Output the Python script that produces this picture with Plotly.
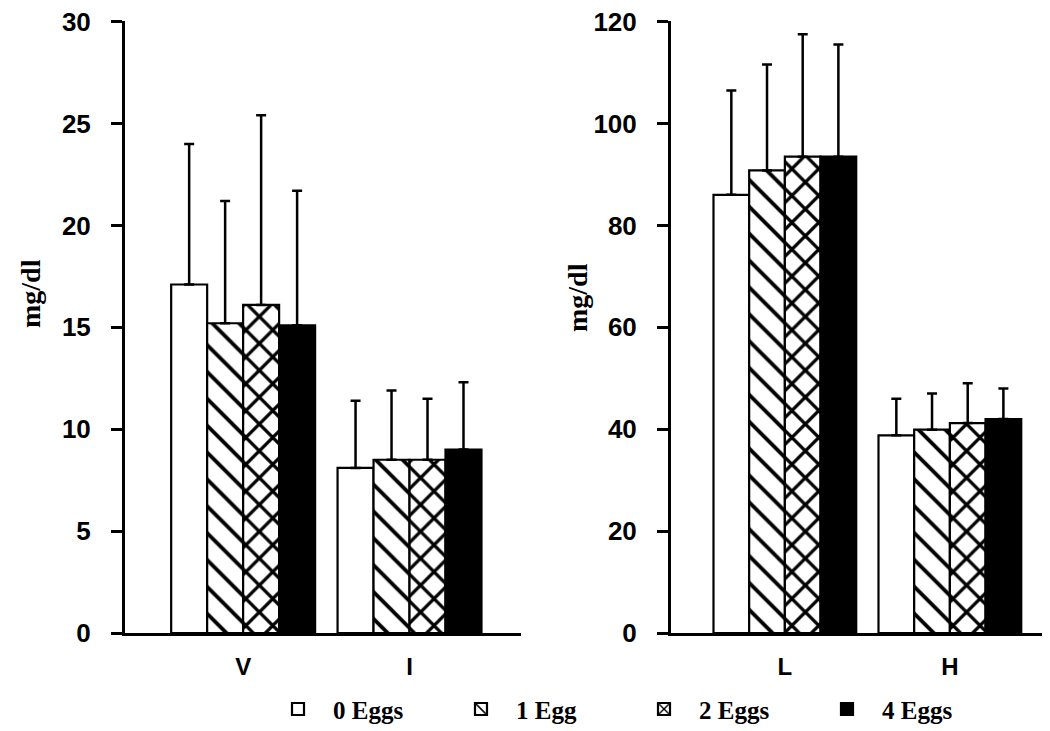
import plotly.graph_objects as go

series = ["0 Eggs", "1 Egg", "2 Eggs", "4 Eggs"]

left_cats = ["V", "I"]
right_cats = ["L", "H"]

# means (mg/dl) per series, left panel (V, I)
left_means = {
    "0 Eggs": [17.1, 8.1],
    "1 Egg": [15.2, 8.5],
    "2 Eggs": [16.1, 8.5],
    "4 Eggs": [15.1, 9.0],
}
left_sd = {
    "0 Eggs": [6.9, 3.3],
    "1 Egg": [6.0, 3.4],
    "2 Eggs": [9.3, 3.0],
    "4 Eggs": [6.6, 3.3],
}
# right panel (L, H)
right_means = {
    "0 Eggs": [86.0, 38.8],
    "1 Egg": [90.8, 39.9],
    "2 Eggs": [93.5, 41.2],
    "4 Eggs": [93.5, 42.0],
}
right_sd = {
    "0 Eggs": [20.5, 7.2],
    "1 Egg": [20.8, 7.1],
    "2 Eggs": [24.0, 7.8],
    "4 Eggs": [22.0, 6.0],
}

left_ticks = [0, 5, 10, 15, 20, 25, 30]
right_ticks = [0, 20, 40, 60, 80, 100, 120]

styles = {
    "0 Eggs": dict(color="white", pattern=dict(shape="")),
    "1 Egg": dict(color="white", pattern=dict(shape="\\", size=19, solidity=0.2,
                                              fgcolor="black", bgcolor="white", fillmode="replace")),
    "2 Eggs": dict(color="white", pattern=dict(shape="x", size=19, solidity=0.32,
                                               fgcolor="black", bgcolor="white", fillmode="replace")),
    "4 Eggs": dict(color="black", pattern=dict(shape="")),
}

fig = go.Figure()

def add_panel(cats, means, sds, xa, ya, showleg):
    for s in series:
        st = styles[s]
        fig.add_trace(go.Bar(
            x=cats, y=means[s], name=s, legendgroup=s, showlegend=showleg,
            xaxis=xa, yaxis=ya,
            marker=dict(color=st["color"], pattern=st["pattern"],
                        line=dict(color="black", width=2.2)),
            error_y=dict(type="data", symmetric=False, array=sds[s],
                         arrayminus=[0] * len(cats), color="black",
                         thickness=2.5, width=5),
        ))

add_panel(left_cats, left_means, left_sd, "x", "y", True)
add_panel(right_cats, right_means, right_sd, "x2", "y2", False)

tickfont = dict(family="Liberation Sans, Arial, sans-serif", size=26, color="black", weight="bold")
catfont = dict(family="Liberation Sans, Arial, sans-serif", size=24, color="black", weight="bold")
serif = "Liberation Serif, Times New Roman, serif"

yax_common = dict(showline=True, linewidth=3, linecolor="black", ticks="outside",
                  ticklen=11, tickwidth=3, tickcolor="black", showgrid=False,
                  zeroline=False, tickfont=tickfont, ticklabelstandoff=15, automargin=False,
                  ticklabeloverflow="allow")
xax_common = dict(type="category", showline=True, linewidth=3, linecolor="black",
                  ticks="", showgrid=False, zeroline=False, tickfont=catfont,
                  ticklabelstandoff=10, automargin=False)

fig.update_layout(
    width=1050, height=731,
    margin=dict(l=0, r=0, t=13, b=106, autoexpand=False),
    paper_bgcolor="white", plot_bgcolor="white",
    barmode="group", bargap=0.135, bargroupgap=0,
    xaxis=dict(domain=[117 / 1050, 513 / 1050], range=[-0.71, 1.67], **xax_common),
    yaxis=dict(range=[0, 30.03], tickvals=left_ticks, **yax_common),
    xaxis2=dict(domain=[663 / 1050, 1045 / 1050], range=[-0.69, 1.625], anchor="y2", **xax_common),
    yaxis2=dict(range=[0, 120.12], tickvals=right_ticks, anchor="x2", **yax_common),
    legend=dict(orientation="h", x=255 / 1050, xanchor="left", y=-0.087, yanchor="top",
                font=dict(family=serif, size=25, color="black", weight="bold"),
                entrywidth=108, entrywidthmode="pixels", traceorder="normal",
                itemwidth=60),
    annotations=[
        dict(text="mg/dl", x=22 / 1050, xref="paper", y=(625 - 286) / 612, yref="paper",
             textangle=-90, showarrow=False, xanchor="center", yanchor="middle",
             font=dict(family=serif, size=28, color="black", weight="bold")),
        dict(text="mg/dl", x=570 / 1050, xref="paper", y=(625 - 290) / 612, yref="paper",
             textangle=-90, showarrow=False, xanchor="center", yanchor="middle",
             font=dict(family=serif, size=28, color="black", weight="bold")),
    ],
)

fig.write_html("out.html")
